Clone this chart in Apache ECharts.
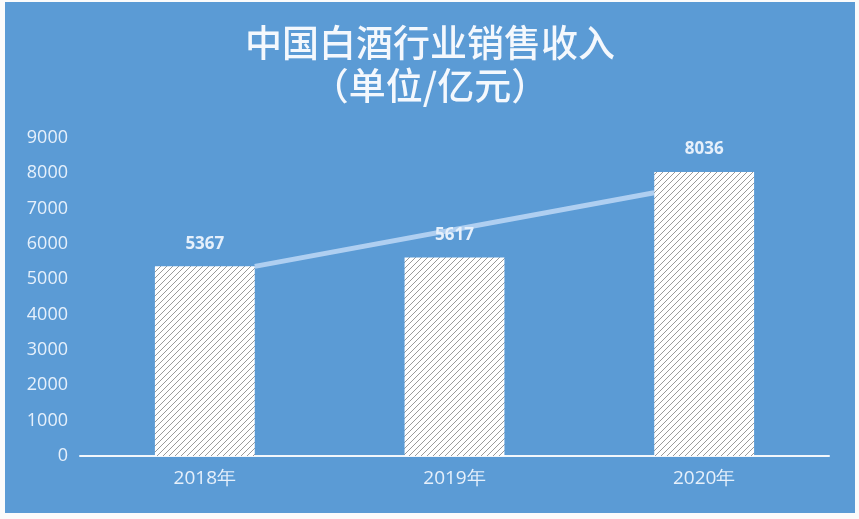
<!DOCTYPE html>
<html>
<head>
<meta charset="utf-8">
<script src="https://cdn.jsdelivr.net/npm/echarts@6/dist/echarts.min.js"></script>
<style>
  html, body { margin: 0; padding: 0; background: #ffffff; }
  #wrap { position: relative; width: 859px; height: 519px; background: #fbfbfb; overflow: hidden; }
  #chart { position: absolute; left: 5px; top: 2px; width: 850px; height: 511px; }
</style>
</head>
<body>
<div id="wrap"><div id="chart"></div></div>
<script>
const categories = ['2018年', '2019年', '2020年'];
const revenue = [5367, 5617, 8036];
const yTicks = { min: 0, max: 9000, interval: 1000 };
// decorative trend line: from top-right of 2018 bar to left edge of 2020 bar
const trendLine = [[0.7, 5367], [2.3, 7450]];

function hatch() {
  const c = document.createElement('canvas');
  const s = 6;
  c.width = s; c.height = s;
  const g = c.getContext('2d');
  g.fillStyle = '#ffffff';
  g.fillRect(0, 0, s, s);
  g.strokeStyle = '#9a9a9a';
  g.lineWidth = 1.0;
  g.beginPath();
  g.moveTo(-1, s + 1); g.lineTo(s + 1, -1);
  g.moveTo(-1, 1); g.lineTo(1, -1);
  g.moveTo(s - 1, s + 1); g.lineTo(s + 1, s - 1);
  g.stroke();
  return c;
}

const chart = echarts.init(document.getElementById('chart'));
const labelColor = '#e6f0fb';
chart.setOption({
  backgroundColor: '#5b9bd5',
  animation: false,
  title: {
    text: '中国白酒行业销售收入\n（单位/亿元）',
    left: 'center',
    top: 14,
    textStyle: {
      color: '#f4f8fd',
      fontFamily: 'Noto Sans CJK SC',
      fontSize: 37,
      fontWeight: 500,
      lineHeight: 43
    }
  },
  grid: { left: 75, right: 26, top: 136, bottom: 57 },
  xAxis: [
    {
      type: 'category',
      data: categories,
      axisLine: { show: true, lineStyle: { color: '#f2f7fc', width: 2 } },
      axisTick: { show: false },
      axisLabel: { color: labelColor, fontSize: 19, fontFamily: 'Open Sans', margin: 13 },
      splitLine: { show: false }
    },
    {
      type: 'value', min: 0, max: 3, show: false
    }
  ],
  yAxis: {
    type: 'value',
    min: yTicks.min, max: yTicks.max, interval: yTicks.interval,
    axisLine: { show: false },
    axisTick: { show: false },
    splitLine: { show: false },
    axisLabel: { color: labelColor, fontSize: 18, fontFamily: 'Open Sans', margin: 12, formatter: v => String(v) }
  },
  series: [
    {
      type: 'line',
      xAxisIndex: 1,
      data: trendLine,
      symbol: 'none',
      z: 1,
      lineStyle: { color: 'rgba(190,216,246,0.85)', width: 5 },
      silent: true
    },
    {
      type: 'bar',
      data: revenue,
      barWidth: '40%',
      z: 3,
      itemStyle: { color: { image: hatch(), repeat: 'repeat' } },
      label: {
        show: true,
        position: 'top',
        distance: 14,
        color: labelColor,
        fontSize: 17,
        fontWeight: 'bold',
        fontFamily: 'Open Sans'
      }
    }
  ]
});
</script>
</body>
</html>
